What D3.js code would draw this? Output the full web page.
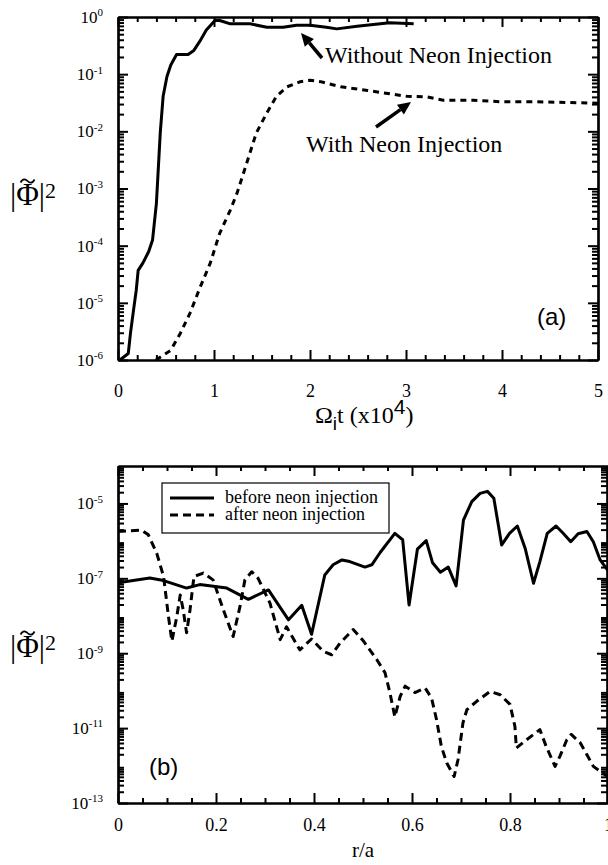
<!DOCTYPE html>
<html><head><meta charset="utf-8">
<script src="https://cdn.jsdelivr.net/npm/d3@7"></script>
<style>body{margin:0;background:#fff}svg{display:block}</style>
</head><body>
<svg id="c" width="608" height="865"></svg>
<script>
// ---------- data ----------
const topXTicks = [0, 1, 2, 3, 4, 5];
const topYExps = [0, -1, -2, -3, -4, -5, -6];
const botXTicks = [0, 0.2, 0.4, 0.6, 0.8, 1];
const botYExps = [-5, -7, -9, -11, -13];

const withoutT = [0.02,0.107,0.13,0.16,0.19,0.21,0.26,0.32,0.36,0.40,0.44,0.47,0.51,0.55,0.61,0.73,0.79,0.85,0.92,1.01,1.06,1.17,1.375,1.55,1.72,1.86,2.0,2.17,2.28,2.49,2.83,3.08];
const withoutV = [1e-6,1.3e-6,2.95e-6,7.1e-6,1.66e-5,3.7e-5,5.0e-5,7.9e-5,1.26e-4,5.5e-4,9.3e-3,4.1e-2,9.1e-2,0.145,0.22,0.22,0.26,0.37,0.59,0.87,0.87,0.76,0.76,0.66,0.66,0.72,0.72,0.66,0.62,0.69,0.79,0.76];

const withT = [0.395,0.55,0.65,0.75,0.85,0.96,1.06,1.17,1.24,1.34,1.44,1.55,1.65,1.76,1.90,2.0,2.11,2.32,2.60,2.77,3.01,3.22,3.39,3.70,3.98,4.33,4.67,5.0];
const withV = [1e-6,1.48e-6,2.95e-6,6.6e-6,1.78e-5,4.9e-5,1.66e-4,4.2e-4,8.3e-4,2.75e-3,9.3e-3,2.1e-2,4.1e-2,6.0e-2,7.4e-2,7.8e-2,7.4e-2,6.0e-2,5.2e-2,4.7e-2,4.1e-2,4.0e-2,3.5e-2,3.5e-2,3.3e-2,3.3e-2,3.2e-2,3.1e-2];

const beforeR = [0.0,0.065,0.093,0.14,0.167,0.222,0.266,0.307,0.348,0.375,0.395,0.422,0.439,0.457,0.473,0.504,0.518,0.535,0.565,0.581,0.594,0.611,0.629,0.642,0.658,0.674,0.69,0.705,0.722,0.739,0.754,0.767,0.783,0.799,0.815,0.831,0.848,0.861,0.876,0.894,0.909,0.924,0.939,0.957,0.970,0.984,1.0];
const beforeV = [7.6e-8,1.02e-7,8.7e-8,5.5e-8,6.8e-8,5.5e-8,2.75e-8,4.9e-8,7.8e-9,1.9e-8,3.2e-9,1.23e-7,2.3e-7,3.1e-7,2.8e-7,2.0e-7,2.3e-7,4.9e-7,1.58e-6,1.07e-6,1.95e-8,6.0e-7,1.02e-6,2.6e-7,1.45e-7,2.0e-7,6.3e-8,3.6e-6,1.12e-5,1.86e-5,2.1e-5,1.38e-5,7.8e-7,1.58e-6,2.5e-6,6.3e-7,7.4e-8,2.8e-7,1.58e-6,2.5e-6,1.58e-6,9.5e-7,1.55e-6,1.78e-6,9.5e-7,3.1e-7,1.6e-7];

const afterR = [0.0,0.048,0.062,0.079,0.093,0.103,0.11,0.12,0.127,0.133,0.14,0.147,0.155,0.174,0.194,0.215,0.235,0.249,0.259,0.273,0.286,0.31,0.331,0.344,0.371,0.395,0.419,0.436,0.453,0.48,0.5,0.528,0.545,0.555,0.565,0.576,0.586,0.606,0.627,0.64,0.65,0.66,0.671,0.686,0.694,0.704,0.712,0.732,0.759,0.78,0.8,0.81,0.813,0.834,0.861,0.874,0.892,0.902,0.916,0.925,0.943,0.957,0.97,0.984,1.0];
const afterV = [1.78e-6,1.95e-6,1.45e-6,4.7e-7,1.12e-7,9.5e-9,2.1e-9,9.5e-9,3.6e-8,1.45e-8,3.5e-9,1.45e-8,1.12e-7,1.38e-7,9.1e-8,1.45e-8,2.8e-9,1.78e-8,9.1e-8,1.5e-7,1.0e-7,2.2e-8,2.3e-9,5.1e-9,1.23e-9,2.4e-9,1.12e-9,9.1e-10,1.86e-9,4.3e-9,2.2e-9,6.8e-10,3.0e-10,8.7e-11,2.0e-11,7.1e-11,1.32e-10,8.9e-11,1.17e-10,6.3e-11,1.7e-11,3.2e-12,1.17e-12,5.1e-13,1.45e-12,1.38e-11,3.1e-11,5.2e-11,9.5e-11,7.8e-11,4.3e-11,1.12e-11,2.95e-12,4.9e-12,9.1e-12,3.2e-12,9.5e-13,1.78e-12,4.9e-12,6.8e-12,4.1e-12,1.95e-12,9.5e-13,7.1e-13,5.0e-13];

const legendLabels = ["before neon injection", "after neon injection"];

// ---------- helpers ----------
const svg = d3.select("#c");
const SERIF = "'Liberation Serif', 'Times New Roman', serif";
const SANS = "'Liberation Sans', Arial, sans-serif";

function minorLog(lo, hi) {
  const out = [];
  for (let e = lo; e < hi; e++) for (let m = 2; m <= 9; m++) out.push(m * Math.pow(10, e));
  return out;
}
function supLabels(g) {
  g.selectAll(".tick text").each(function(d) {
    const t = d3.select(this);
    t.text("10");
    t.append("tspan").attr("dy", "-0.6em").style("font-size", "11px").text(Math.round(Math.log10(d)));
  });
}
function styleAxis(g) {
  g.selectAll("path.domain").attr("stroke", "#000").attr("stroke-width", 2.2);
  g.selectAll(".tick line").attr("stroke", "#000").attr("stroke-width", 2);
}

function panel(cfg) {
  const {L, R, T, B, x, y, xMajor, xMinor, yMajor, yMinor, xPad, xFmt} = cfg;
  const gx = (ax, ty) => svg.append("g").attr("transform", `translate(0,${ty})`).call(ax);
  const gy = (ax, tx) => svg.append("g").attr("transform", `translate(${tx},0)`).call(ax);
  let g = gx(d3.axisBottom(x).tickValues(xMinor).tickSizeInner(-5).tickSizeOuter(0).tickFormat(""), B); styleAxis(g);
  g = gx(d3.axisBottom(x).tickValues(xMajor).tickSizeInner(-10).tickSizeOuter(0).tickPadding(xPad).tickFormat(xFmt), B);
  styleAxis(g);
  g.style("font-family", SERIF).style("font-size", "18px");
  g.selectAll(".tick text").style("font-family", SERIF).style("font-size", "18px").attr("fill", "#000");
  g = gx(d3.axisTop(x).tickValues(xMinor).tickSizeInner(-5).tickSizeOuter(0).tickFormat(""), T); styleAxis(g);
  g = gx(d3.axisTop(x).tickValues(xMajor).tickSizeInner(-10).tickSizeOuter(0).tickFormat(""), T); styleAxis(g);
  g = gy(d3.axisLeft(y).tickValues(yMinor).tickSizeInner(-6).tickSizeOuter(0).tickFormat(""), L); styleAxis(g);
  g = gy(d3.axisLeft(y).tickValues(yMajor).tickSizeInner(-10).tickSizeOuter(0).tickPadding(15), L);
  styleAxis(g);
  g.style("font-family", SERIF).style("font-size", "17px");
  g.selectAll(".tick text").style("font-family", SERIF).style("font-size", "17px").attr("fill", "#000");
  supLabels(g);
  g = gy(d3.axisRight(y).tickValues(yMinor).tickSizeInner(-6).tickSizeOuter(0).tickFormat(""), R); styleAxis(g);
  g = gy(d3.axisRight(y).tickValues(yMajor).tickSizeInner(-10).tickSizeOuter(0).tickFormat(""), R); styleAxis(g);
}

function drawLine(clipId, xs, ys, x, y, dash, w) {
  const pts = xs.map((d, i) => [d, ys[i]]);
  svg.append("path").datum(pts)
    .attr("clip-path", `url(#${clipId})`)
    .attr("d", d3.line().x(d => x(d[0])).y(d => y(d[1])))
    .attr("fill", "none").attr("stroke", "#000").attr("stroke-width", w)
    .attr("stroke-linejoin", "round")
    .attr("stroke-dasharray", dash);
}
function arrow(x1, y1, x2, y2) {
  const ang = Math.atan2(y2 - y1, x2 - x1), hl = 13, hw = 6;
  const bx = x2 - hl * Math.cos(ang), by = y2 - hl * Math.sin(ang);
  svg.append("line").attr("x1", x1).attr("y1", y1).attr("x2", bx).attr("y2", by)
    .attr("stroke", "#000").attr("stroke-width", 3.5);
  const px = -Math.sin(ang) * hw, py = Math.cos(ang) * hw;
  svg.append("path").attr("d", `M${x2},${y2}L${bx + px},${by + py}L${bx - px},${by - py}Z`).attr("fill", "#000");
}
function ylabel(yb) {
  const t = svg.append("text").attr("x", 10).attr("y", yb).style("font-family", SERIF).style("font-size", "31px");
  t.append("tspan").text("|Φ|");
  t.append("tspan").style("font-size", "22px").attr("dy", -7).text("2");
  const ext = t.node().getExtentOfChar(1);
  const cx = ext.x + ext.width / 2, ty = yb - 24;
  svg.append("path")
    .attr("d", `M${cx - 7},${ty + 1.5}C${cx - 4.5},${ty - 3.5} ${cx - 1.5},${ty - 1.5} ${cx},${ty}S${cx + 4.5},${ty + 3.5} ${cx + 7},${ty - 1.5}`)
    .attr("fill", "none").attr("stroke", "#000").attr("stroke-width", 1.7);
}

const defs = svg.append("defs");

// ---------- panel (a) ----------
const A = {L: 118, R: 598, T: 17, B: 360};
const xa = d3.scaleLinear().domain([0, 5]).range([A.L, A.R]);
const ya = d3.scaleLog().domain([1e-6, 1]).range([A.B, A.T]);
defs.append("clipPath").attr("id", "ca").append("rect").attr("x", A.L).attr("y", A.T).attr("width", A.R - A.L).attr("height", A.B - A.T);
drawLine("ca", withoutT, withoutV, xa, ya, null, 3);
drawLine("ca", withT, withV, xa, ya, "6,5", 3);
panel({...A, x: xa, y: ya, xMajor: topXTicks, xMinor: d3.range(0, 5.01, 0.2).filter(v => Math.abs(v - Math.round(v)) > 1e-6),
  yMajor: topYExps.map(e => Math.pow(10, e)), yMinor: minorLog(-6, 0), xPad: 24, xFmt: d3.format("d")});

svg.append("text").attr("x", 325).attr("y", 63).style("font-family", SERIF).style("font-size", "24px").text("Without Neon Injection");
arrow(322, 58, 301, 33);
svg.append("text").attr("x", 306).attr("y", 152).style("font-family", SERIF).style("font-size", "24px").text("With Neon Injection");
arrow(376, 127, 411, 102);
svg.append("text").attr("x", 537).attr("y", 325).style("font-family", SANS).style("font-size", "24px").text("(a)");

const xt = svg.append("text").attr("x", 315).attr("y", 423).style("font-family", SERIF).style("font-size", "24px");
xt.append("tspan").text("Ω");
xt.append("tspan").style("font-family", SANS).style("font-size", "19px").attr("dy", 7).text("i");
xt.append("tspan").attr("dy", -7).text("t (x10");
xt.append("tspan").attr("dy", -9).style("font-family", SANS).style("font-size", "21px").text("4");
xt.append("tspan").attr("dy", 9).text(")");

ylabel(205);

// ---------- panel (b) ----------
const Bp = {L: 118, R: 607, T: 466, B: 803};
const xb = d3.scaleLinear().domain([0, 1]).range([Bp.L, 608]);
const yb = d3.scaleLog().domain([1e-13, 1e-4]).range([Bp.B, Bp.T]);
defs.append("clipPath").attr("id", "cb").append("rect").attr("x", Bp.L).attr("y", Bp.T).attr("width", Bp.R - Bp.L).attr("height", Bp.B - Bp.T);
drawLine("cb", beforeR, beforeV, xb, yb, null, 3);
drawLine("cb", afterR, afterV, xb, yb, "8,5", 3);
panel({...Bp, x: xb, y: yb, xMajor: botXTicks, xMinor: d3.range(0, 1.001, 0.05).filter(v => Math.abs(v * 5 - Math.round(v * 5)) > 1e-6),
  yMajor: botYExps.map(e => Math.pow(10, e)), yMinor: minorLog(-13, -4), xPad: 15, xFmt: d => d === 0 ? "0" : (d === 1 ? "1" : d3.format(".1f")(d))});

// legend
const lg = svg.append("g");
lg.append("rect").attr("x", 162).attr("y", 483).attr("width", 227).attr("height", 50).attr("fill", "#fff").attr("stroke", "#000").attr("stroke-width", 1.2);
[null, "8,5"].forEach((d, i) => {
  const yy = 498 + i * 17;
  lg.append("line").attr("x1", 170).attr("x2", 214).attr("y1", yy).attr("y2", yy).attr("stroke", "#000").attr("stroke-width", 3).attr("stroke-dasharray", d);
  lg.append("text").attr("x", 225).attr("y", yy + 5).style("font-family", SERIF).style("font-size", "18px").text(legendLabels[i]);
});

svg.append("text").attr("x", 149).attr("y", 775).style("font-family", SANS).style("font-size", "24px").text("(b)");
svg.append("text").attr("x", 363).attr("y", 857).attr("text-anchor", "middle").style("font-family", SERIF).style("font-size", "21px").text("r/a");
ylabel(657);
</script>
</body></html>
